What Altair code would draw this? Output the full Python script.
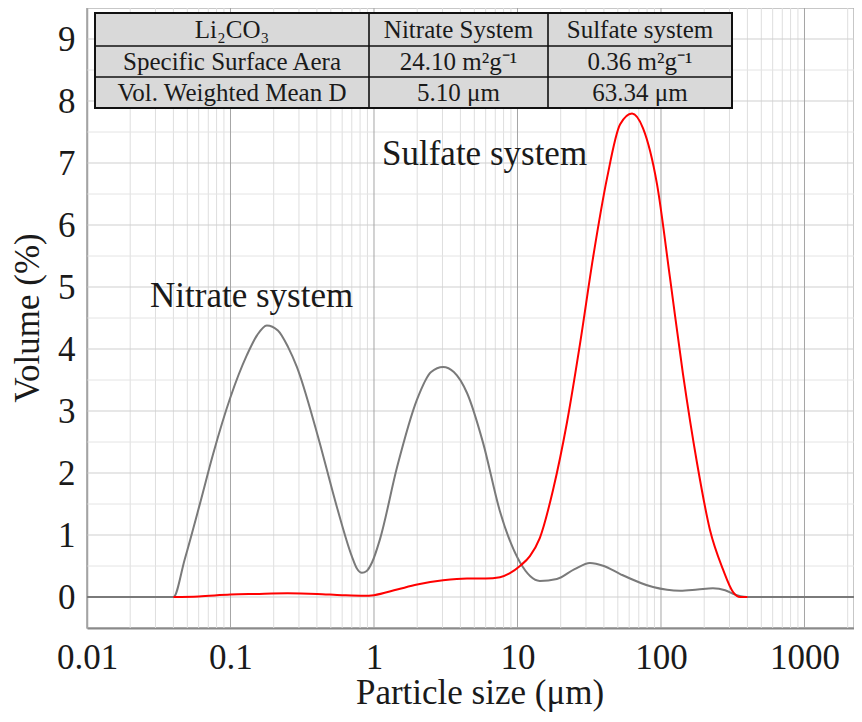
import altair as alt
import pandas as pd

# ---------------- data ----------------
nitrate_size = [0.01, 0.040, 0.048, 0.061, 0.0755, 0.0995, 0.130, 0.153, 0.179, 0.214,
                0.252, 0.290, 0.400, 0.550, 0.700, 0.760, 0.824, 0.890, 0.970, 1.10,
                1.45, 1.99, 2.50, 3.03, 3.60, 4.45, 5.75, 7.55, 10.4, 14.3,
                18.8, 25.0, 32.0, 40.0, 52.0, 88.0, 136.0, 180.0, 230.0, 280.0,
                318.0, 397.0, 2213.0]
nitrate_vol = [0.0, 0.0, 0.61, 1.49, 2.30, 3.21, 3.90, 4.22, 4.38, 4.30,
               4.03, 3.71, 2.65, 1.46, 0.66, 0.46, 0.39, 0.42, 0.56, 0.93,
               2.10, 3.18, 3.63, 3.71, 3.63, 3.29, 2.49, 1.38, 0.56, 0.26,
               0.29, 0.45, 0.55, 0.50, 0.37, 0.16, 0.10, 0.12, 0.14, 0.11,
               0.05, 0.0, 0.0]

sulfate_size = [0.040, 0.060, 0.100, 0.150, 0.250, 0.400, 0.600, 0.850, 1.00, 1.45,
                2.00, 3.03, 4.45, 6.00, 7.55, 8.80, 10.4, 12.2, 14.3, 17.7,
                22.1, 27.3, 33.6, 42.1, 51.8, 62.8, 75.0, 93.8, 115.5, 142.0,
                178.0, 219.0, 270.0, 318.0, 356.0, 400.0]
sulfate_vol = [0.0, 0.01, 0.04, 0.05, 0.06, 0.05, 0.03, 0.02, 0.03, 0.12,
               0.20, 0.27, 0.30, 0.30, 0.32, 0.38, 0.50, 0.66, 0.95, 1.73,
               2.81, 4.09, 5.47, 6.76, 7.62, 7.80, 7.56, 6.66, 5.15, 3.61,
               2.17, 1.09, 0.45, 0.08, 0.0, 0.0]

x_tick_values = [0.01, 0.1, 1, 10, 100, 1000]
x_minor_mult = [2, 3, 4, 5, 6, 7, 8, 9]
x_max = 2213
y_tick_values = [0, 1, 2, 3, 4, 5, 6, 7, 8, 9]
y_half_values = [0.5, 1.5, 2.5, 3.5, 4.5, 5.5, 6.5, 7.5, 8.5]

table_rows = [
    ["Li₂CO₃", "Nitrate System", "Sulfate system"],
    ["Specific Surface Aera", "24.10 m²g⁻¹", "0.36 m²g⁻¹"],
    ["Vol. Weighted Mean D", "5.10 μm", "63.34 μm"],
]

label_text = ["Nitrate system", "Sulfate system"]
label_x = [0.0275, 1.137]
label_y = [4.68, 6.97]

# ---------------- layout constants ----------------
W, H = 767, 620
FONT = "Liberation Serif"
COL_EDGES = [8, 282, 461, 645]      # table columns, px in plot area
ROW_EDGES = [5, 38, 69, 100]        # table rows, px in plot area

# ---------------- frames ----------------
df_nit = pd.DataFrame({"size": nitrate_size, "vol": nitrate_vol})
df_sul = pd.DataFrame({"size": sulfate_size, "vol": sulfate_vol})
decades = pd.DataFrame({"gx": x_tick_values})
minors = pd.DataFrame({"gx": [m * d for d in x_tick_values for m in x_minor_mult if m * d <= x_max]})
ymaj = pd.DataFrame({"gy": y_tick_values})
yhalf = pd.DataFrame({"gy": y_half_values})
labels = pd.DataFrame({"t": label_text, "x": label_x, "y": label_y})

cells = []
for r, row in enumerate(table_rows):
    for c, txt in enumerate(row):
        cells.append({"t": txt,
                      "cx": (COL_EDGES[c] + COL_EDGES[c + 1]) / 2,
                      "cy": (ROW_EDGES[r] + ROW_EDGES[r + 1]) / 2})
cells = pd.DataFrame(cells)
tlines = pd.DataFrame(
    [{"x": COL_EDGES[1], "x2": COL_EDGES[1], "y": ROW_EDGES[0], "y2": ROW_EDGES[3]},
     {"x": COL_EDGES[2], "x2": COL_EDGES[2], "y": ROW_EDGES[0], "y2": ROW_EDGES[3]},
     {"x": COL_EDGES[0], "x2": COL_EDGES[3], "y": ROW_EDGES[1], "y2": ROW_EDGES[1]},
     {"x": COL_EDGES[0], "x2": COL_EDGES[3], "y": ROW_EDGES[2], "y2": ROW_EDGES[2]}])
one = pd.DataFrame({"a": [0]})

xscale = alt.Scale(type="log", domain=[0.01, x_max], nice=False)
yscale = alt.Scale(domain=[-0.5, 9.5], nice=False, zero=False)
xaxis = alt.Axis(values=x_tick_values, format="~g", grid=False, ticks=False, tickSize=0,
                 domain=True, domainColor="#8a8a8a", domainWidth=2,
                 labelFont=FONT, labelFontSize=35, labelColor="#1a1a1a",
                 labelPadding=40, labelBaseline="alphabetic",
                 labelOverlap=False, labelFlush=False, title=None)
yaxis = alt.Axis(values=y_tick_values, format="d", grid=False, ticks=False, tickSize=0,
                 domain=True, domainColor="#a0a0a0", domainWidth=1.5,
                 labelFont=FONT, labelFontSize=35, labelColor="#1a1a1a",
                 labelPadding=12, labelOverlap=False, labelFlush=False, title=None)


def X(f):
    return alt.X(f, type="quantitative", scale=xscale, axis=xaxis)


def Y(f):
    return alt.Y(f, type="quantitative", scale=yscale, axis=yaxis)


g_minor = alt.Chart(minors).mark_rule(color="#dedede", strokeWidth=1).encode(x=X("gx"))
g_major = alt.Chart(decades).mark_rule(color="#a5a5a5", strokeWidth=1).encode(x=X("gx"))
g_half = alt.Chart(yhalf).mark_rule(color="#e4e4e4", strokeWidth=1).encode(y=Y("gy"))
g_int = alt.Chart(ymaj).mark_rule(color="#cfcfcf", strokeWidth=1.2).encode(y=Y("gy"))

line_nit = alt.Chart(df_nit).mark_line(color="#7a7a7a", strokeWidth=2, interpolate="monotone").encode(
    x=X("size"), y=Y("vol"))
line_sul = alt.Chart(df_sul).mark_line(color="#ff0000", strokeWidth=2, interpolate="monotone").encode(
    x=X("size"), y=Y("vol"))

ann = alt.Chart(labels).mark_text(font=FONT, fontSize=35, color="#1a1a1a", align="left",
                                  baseline="alphabetic").encode(x=X("x"), y=Y("y"), text="t:N")

tbl_bg = alt.Chart(one).mark_rect(fill="#d9d9d9", stroke="#111111", strokeWidth=2).encode(
    x=alt.value(COL_EDGES[0]), x2=alt.value(COL_EDGES[3]),
    y=alt.value(ROW_EDGES[0]), y2=alt.value(ROW_EDGES[3]))
tbl_lines = alt.Chart(tlines).mark_rule(color="#111111", strokeWidth=1.6).encode(
    x=alt.X("x:Q", scale=None, axis=None), x2="x2:Q",
    y=alt.Y("y:Q", scale=None, axis=None), y2="y2:Q")
tbl_text = alt.Chart(cells).mark_text(font=FONT, fontSize=25, color="#1a1a1a", align="center",
                                      baseline="middle").encode(
    x=alt.X("cx:Q", scale=None, axis=None),
    y=alt.Y("cy:Q", scale=None, axis=None), text="t:N")

xtitle = alt.Chart(one).mark_text(text="Particle size (μm)", font=FONT, fontSize=35, color="#1a1a1a",
                                  align="center", baseline="alphabetic").encode(
    x=alt.value(393), y=alt.value(696))
ytitle = alt.Chart(one).mark_text(text="Volume (%)", font=FONT, fontSize=35, color="#1a1a1a",
                                  align="center", baseline="middle", angle=270).encode(
    x=alt.value(-59), y=alt.value(310))

chart = alt.layer(
    g_minor, g_half, g_int, g_major, line_nit, line_sul, ann,
    tbl_bg, tbl_lines, tbl_text, xtitle, ytitle
).properties(
    width=W, height=H,
    autosize=alt.AutoSizeParams(type="none"),
    padding={"left": 79, "top": 0, "right": 0, "bottom": 86},
).configure_view(stroke="#b5b5b5", strokeWidth=1.5)

chart.save("out.html", embed_options={"renderer": "svg", "actions": False})
